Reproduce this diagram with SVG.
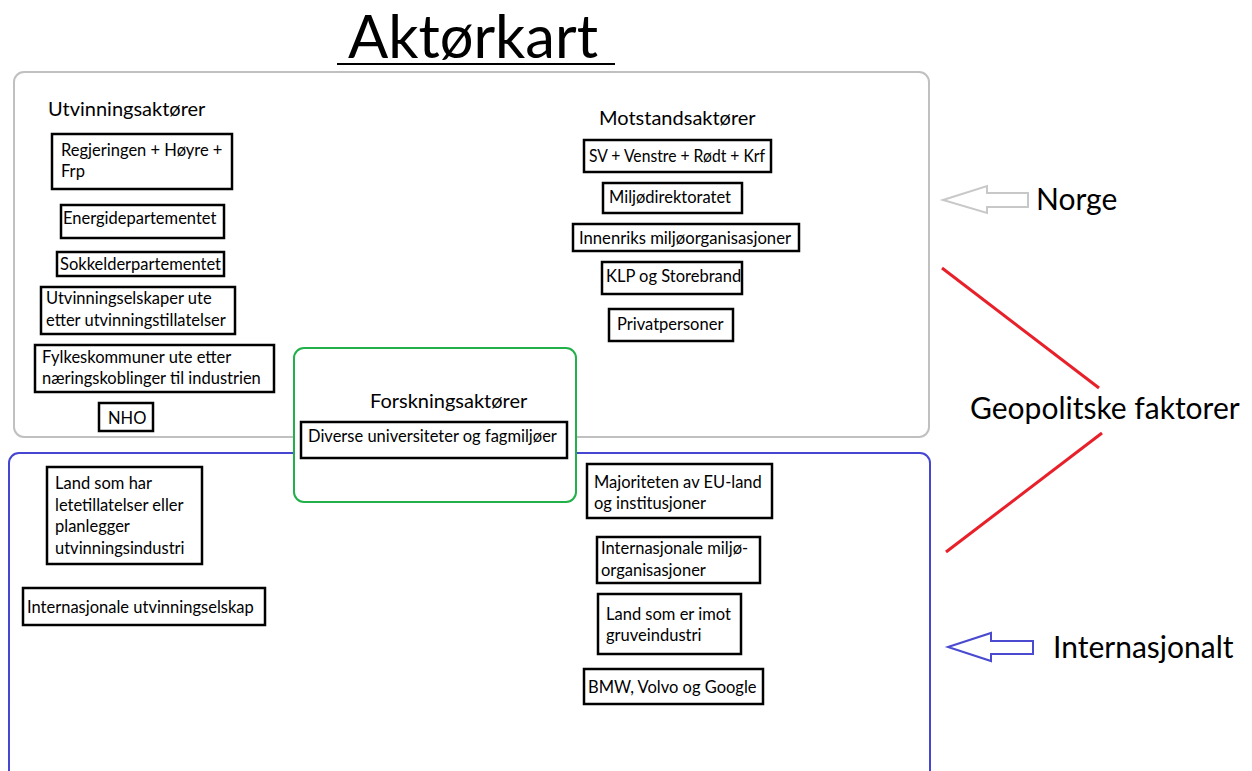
<svg xmlns="http://www.w3.org/2000/svg" width="1252" height="771" viewBox="0 0 1252 771">
<style>
text{font-family:Lato,"Liberation Sans",sans-serif;fill:#000}
.b{fill:#fff;stroke:#000;stroke-width:2.5}
.t{font-size:16.5px}
.h{font-size:20px}
.big{font-size:30px}
</style>
<rect width="1252" height="771" fill="#fff"/>
<g id="title">
<text x="348" y="58" font-size="60" textLength="250" lengthAdjust="spacingAndGlyphs">Aktørkart</text>
<line x1="337" y1="64" x2="615" y2="64" stroke="#000" stroke-width="2"/>
</g>
<g id="norge-frame"><rect x="14" y="72" width="915" height="365" rx="10" fill="none" stroke="#c0c0c0" stroke-width="2"/></g>
<g id="int-frame"><rect x="9" y="453" width="921" height="330" rx="10" fill="none" stroke="#4646d2" stroke-width="2"/></g>
<g id="utv">
<text class="h" x="48" y="116">Utvinningsaktører</text>
<g id="n1"><rect class="b" x="52" y="134" width="180" height="55"/><text class="t" x="61" y="156">Regjeringen + Høyre +</text><text class="t" x="61" y="177">Frp</text></g>
<g id="n2"><rect class="b" x="61" y="205" width="163" height="33"/><text class="t" x="63" y="224">Energidepartementet</text></g>
<g id="n3"><rect class="b" x="57" y="252" width="167" height="24"/><text class="t" x="60" y="270">Sokkelderpartementet</text></g>
<g id="n4"><rect class="b" x="41" y="287" width="194" height="47"/><text class="t" x="46" y="304">Utvinningselskaper ute</text><text class="t" x="46" y="326">etter utvinningstillatelser</text></g>
<g id="n5"><rect class="b" x="35" y="345" width="239" height="47"/><text class="t" x="42" y="363">Fylkeskommuner ute etter</text><text class="t" x="42" y="384">næringskoblinger til industrien</text></g>
<g id="n6"><rect class="b" x="99" y="403" width="54" height="28"/><text class="t" x="108" y="424">NHO</text></g>
</g>
<g id="mot">
<text class="h" x="599" y="125">Motstandsaktører</text>
<g id="m1"><rect class="b" x="584" y="140" width="187" height="32"/><text class="t" x="589" y="162" textLength="176" lengthAdjust="spacingAndGlyphs">SV + Venstre + Rødt + Krf</text></g>
<g id="m2"><rect class="b" x="603" y="183" width="139" height="30"/><text class="t" x="609" y="203">Miljødirektoratet</text></g>
<g id="m3"><rect class="b" x="573" y="224" width="226" height="27"/><text class="t" x="579" y="244" textLength="212" lengthAdjust="spacingAndGlyphs">Innenriks miljøorganisasjoner</text></g>
<g id="m4"><rect class="b" x="602" y="262" width="140" height="32"/><text class="t" x="606" y="282">KLP og Storebrand</text></g>
<g id="m5"><rect class="b" x="609" y="309" width="124" height="32"/><text class="t" x="617" y="330">Privatpersoner</text></g>
</g>
<g id="forsk">
<rect x="294" y="348" width="282" height="154" rx="10" fill="#fff" stroke="#22b04a" stroke-width="2"/>
<text class="h" x="370" y="408">Forskningsaktører</text>
<g id="f1"><rect class="b" x="301" y="422" width="266" height="36"/><text class="t" x="308" y="442">Diverse universiteter og fagmiljøer</text></g>
</g>
<g id="int">
<g id="i1"><rect class="b" x="47" y="467" width="155" height="97"/><text class="t" x="55" y="489">Land som har</text><text class="t" x="55" y="511">letetillatelser eller</text><text class="t" x="55" y="532">planlegger</text><text class="t" x="55" y="554">utvinningsindustri</text></g>
<g id="i2"><rect class="b" x="23" y="588" width="242" height="37"/><text class="t" x="27" y="613">Internasjonale utvinningselskap</text></g>
<g id="i3"><rect class="b" x="587" y="464" width="185" height="54"/><text class="t" x="594" y="488">Majoriteten av EU-land</text><text class="t" x="594" y="509">og institusjoner</text></g>
<g id="i4"><rect class="b" x="597" y="537" width="163" height="46"/><text class="t" x="601" y="554">Internasjonale miljø-</text><text class="t" x="601" y="576">organisasjoner</text></g>
<g id="i5"><rect class="b" x="598" y="594" width="143" height="60"/><text class="t" x="606" y="620">Land som er imot</text><text class="t" x="606" y="641">gruveindustri</text></g>
<g id="i6"><rect class="b" x="584" y="669" width="179" height="35"/><text class="t" x="588" y="693">BMW, Volvo og Google</text></g>
</g>
<g id="connectors">
<path d="M943,200 L987,186 L987,193 L1028,193 L1028,207 L987,207 L987,213 Z" fill="#fff" stroke="#c8c8c8" stroke-width="2"/>
<path d="M948,647 L991,633 L991,641 L1033,641 L1033,654 L991,654 L991,661 Z" fill="#fff" stroke="#4a4ad0" stroke-width="2"/>
<line x1="942" y1="268" x2="1099" y2="388" stroke="#e8202a" stroke-width="3"/>
<line x1="1102" y1="433" x2="946" y2="552" stroke="#e8202a" stroke-width="3"/>
</g>
<g id="labels">
<text class="big" x="1036" y="210">Norge</text>
<text class="big" x="970" y="419">Geopolitske faktorer</text>
<text class="big" x="1053" y="658">Internasjonalt</text>
</g>
</svg>
